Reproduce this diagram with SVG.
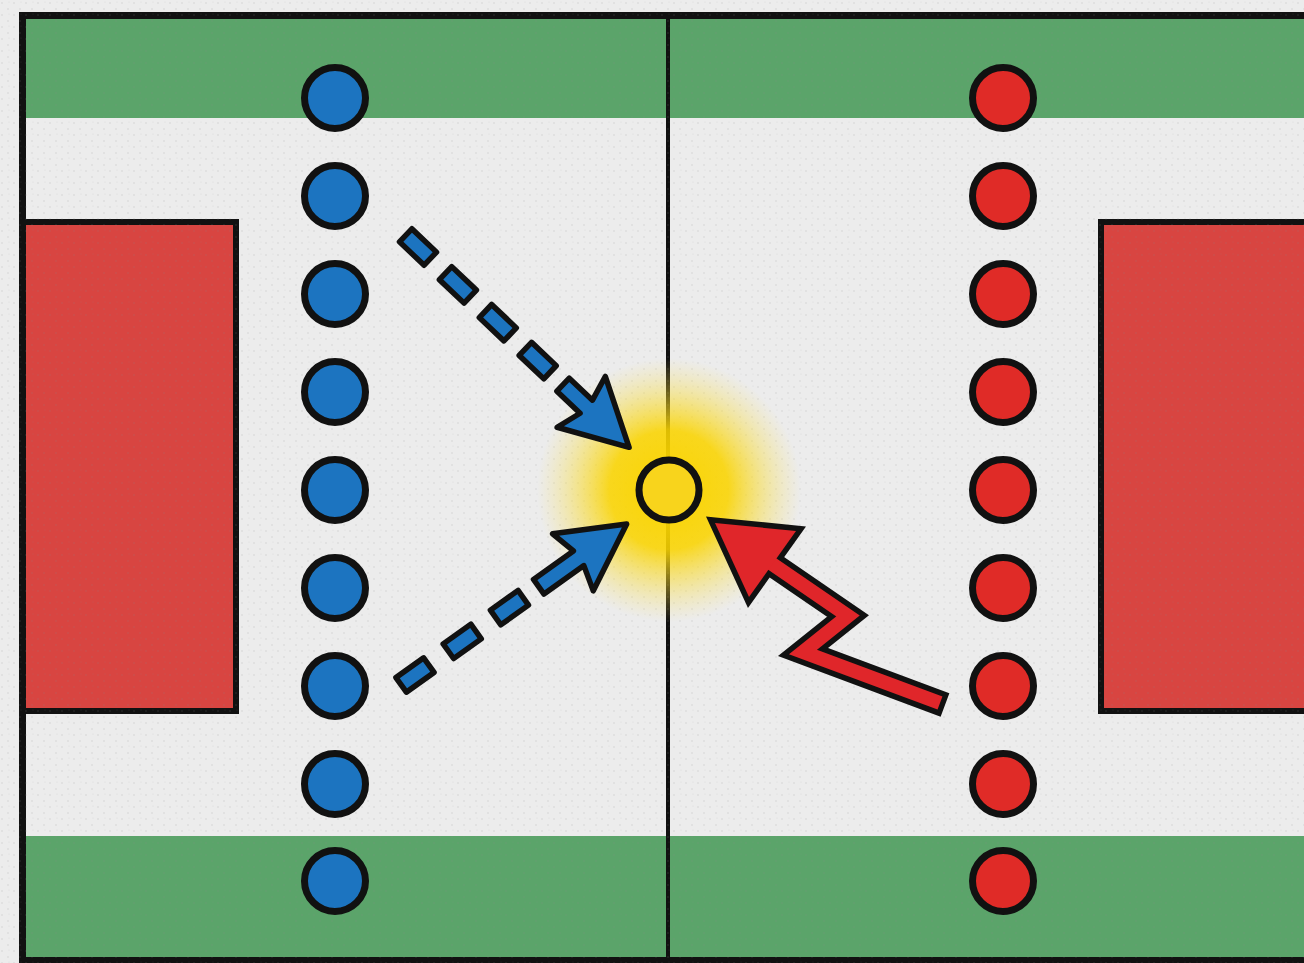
<svg xmlns="http://www.w3.org/2000/svg" width="1304" height="963" viewBox="0 0 1304 963">
  <defs>
    <style>
      .line { stroke: #111; fill: none; }
      .green { fill: #5ba46a; }
      .goal { fill: #d84541; stroke: #111; stroke-width: 6; }
      .blue { fill: #1c74c0; stroke: #111; stroke-width: 7; }
      .red { fill: #e02b27; stroke: #111; stroke-width: 7; }
      .ball { fill: #f8d41c; stroke: #111; stroke-width: 7; }
      .dash { fill: #1c74c0; stroke: #111; stroke-width: 5.5; stroke-linejoin: round; }
    </style>
    <pattern id="dots" width="12" height="12" patternUnits="userSpaceOnUse">
      <circle cx="2" cy="3" r="0.8" fill="#888" opacity="0.25"/>
      <circle cx="8" cy="9" r="0.8" fill="#888" opacity="0.25"/>
      <circle cx="9" cy="2" r="0.6" fill="#888" opacity="0.18"/>
    </pattern>
    <radialGradient id="glow" cx="0.5" cy="0.5" r="0.5">
      <stop offset="0" stop-color="#fad400" stop-opacity="1"/>
      <stop offset="0.45" stop-color="#fad400" stop-opacity="0.88"/>
      <stop offset="0.75" stop-color="#fadc30" stop-opacity="0.38"/>
      <stop offset="1" stop-color="#fae060" stop-opacity="0"/>
    </radialGradient>
  </defs>

  <!-- background -->
  <rect x="0" y="0" width="1304" height="963" fill="#ececec"/>

  <!-- court -->
  <g id="court">
    <rect class="green" x="22" y="18" width="1282" height="100"/>
    <rect class="green" x="22" y="836" width="1282" height="124"/>
    <rect id="goal-left" class="goal" x="22" y="222" width="214" height="489"/>
    <rect id="goal-right" class="goal" x="1101" y="222" width="230" height="489"/>
    <line class="line" x1="19" y1="15.5" x2="1304" y2="15.5" stroke-width="7"/>
    <line class="line" x1="22.5" y1="12" x2="22.5" y2="963" stroke-width="7"/>
    <line class="line" x1="19" y1="960" x2="1304" y2="960" stroke-width="6"/>
    <line class="line" x1="668" y1="15" x2="668" y2="963" stroke-width="4"/>
  </g>

  <rect x="0" y="0" width="1304" height="963" fill="url(#dots)"/>

  <!-- glow -->
  <circle cx="669" cy="490" r="132" fill="url(#glow)"/>

  <!-- blue team -->
  <g id="team-blue">
    <g id="blue-1"><circle class="blue" cx="335" cy="98" r="30.5"/></g>
    <g id="blue-2"><circle class="blue" cx="335" cy="196" r="30.5"/></g>
    <g id="blue-3"><circle class="blue" cx="335" cy="294" r="30.5"/></g>
    <g id="blue-4"><circle class="blue" cx="335" cy="392" r="30.5"/></g>
    <g id="blue-5"><circle class="blue" cx="335" cy="490" r="30.5"/></g>
    <g id="blue-6"><circle class="blue" cx="335" cy="588" r="30.5"/></g>
    <g id="blue-7"><circle class="blue" cx="335" cy="686" r="30.5"/></g>
    <g id="blue-8"><circle class="blue" cx="335" cy="784" r="30.5"/></g>
    <g id="blue-9"><circle class="blue" cx="335" cy="881" r="30.5"/></g>
  </g>

  <!-- red team -->
  <g id="team-red">
    <g id="red-1"><circle class="red" cx="1003" cy="98" r="30.5"/></g>
    <g id="red-2"><circle class="red" cx="1003" cy="196" r="30.5"/></g>
    <g id="red-3"><circle class="red" cx="1003" cy="294" r="30.5"/></g>
    <g id="red-4"><circle class="red" cx="1003" cy="392" r="30.5"/></g>
    <g id="red-5"><circle class="red" cx="1003" cy="490" r="30.5"/></g>
    <g id="red-6"><circle class="red" cx="1003" cy="588" r="30.5"/></g>
    <g id="red-7"><circle class="red" cx="1003" cy="686" r="30.5"/></g>
    <g id="red-8"><circle class="red" cx="1003" cy="784" r="30.5"/></g>
    <g id="red-9"><circle class="red" cx="1003" cy="881" r="30.5"/></g>
  </g>

  <!-- ball -->
  <g id="ball"><circle class="ball" cx="669" cy="490" r="30"/></g>

  <!-- connectors -->
  <g id="connectors">
    <g id="arrow-blue-upper" transform="translate(418,247) rotate(43.5)">
      <rect class="dash" x="-17" y="-9" width="34" height="18"/>
      <rect class="dash" x="38" y="-9" width="34" height="18"/>
      <rect class="dash" x="93" y="-9" width="34" height="18"/>
      <rect class="dash" x="148" y="-9" width="34" height="18"/>
      <polygon class="dash" stroke-linejoin="miter" points="200,-9 232,-9 225,-35 291,0 225,35 232,9 200,9"/>
    </g>
    <g id="arrow-blue-lower" transform="translate(415,675) rotate(-35.5)">
      <rect class="dash" x="-17" y="-9" width="34" height="18"/>
      <rect class="dash" x="41" y="-9" width="34" height="18"/>
      <rect class="dash" x="99" y="-9" width="34" height="18"/>
      <polygon class="dash" stroke-linejoin="miter" points="152,-9 201,-9 194,-35 260,0 194,35 201,9 152,9"/>
    </g>
    <g id="arrow-red">
      <polygon points="715,523 796,531 749,597" fill="#111" stroke="#111" stroke-width="11" stroke-linejoin="miter"/>
      <polyline points="945,705 803,652 848,616 762,557" fill="none" stroke="#111" stroke-width="25" stroke-linejoin="miter" stroke-miterlimit="6"/>
      <polyline points="940,703 803,652 848,616 762,557" fill="none" stroke="#e0262a" stroke-width="14" stroke-linejoin="miter" stroke-miterlimit="6"/>
      <polygon points="715,523 796,531 749,597" fill="#e0262a"/>
    </g>
  </g>
</svg>
